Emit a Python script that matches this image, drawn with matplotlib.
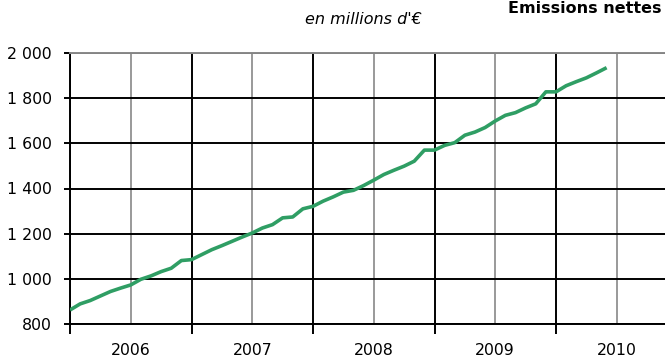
import matplotlib
matplotlib.use("Agg")
import matplotlib.pyplot as plt
import numpy as np

# Emissions nettes cumulées, en millions d'euros, valeurs mensuelles janv. 2006 -> juin 2010
valeurs = [862, 889, 904, 924, 944, 959, 973, 998, 1013, 1032, 1047, 1081,
           1085, 1107, 1129, 1147, 1166, 1185, 1203, 1225, 1240, 1270, 1274, 1310,
           1321, 1344, 1363, 1384, 1392, 1413, 1437, 1462, 1481, 1499, 1521, 1570,
           1570, 1591, 1603, 1636, 1650, 1670, 1699, 1724, 1736, 1757, 1775, 1828,
           1828, 1855, 1873, 1890, 1912, 1935]
annees = ["2006", "2007", "2008", "2009", "2010"]
y_ticks = [800, 1000, 1200, 1400, 1600, 1800, 2000]

W, H = 665, 363
fig = plt.figure(figsize=(W / 100, H / 100), dpi=100)
# axe qui depasse a droite (le graphique d'origine est rogne)
ax = fig.add_axes([70 / W, 39 / H, 607.5 / W, 271 / H])

mois = np.arange(len(valeurs))
ax.plot(mois, valeurs, color="#2f9e64", linewidth=2.6, solid_capstyle="butt", zorder=3)

ax.set_xlim(0, 12 * len(annees))
ax.set_ylim(800, 2000)

# y
ax.set_yticks(y_ticks)
ax.set_yticklabels([f"{v:,}".replace(",", " ") for v in y_ticks])
ax.tick_params(axis="y", length=4, width=1.4, direction="out", color="black",
               labelsize=11.3, pad=9)
ax.yaxis.grid(True, color="black", linewidth=1.4)

# x : separations des annees (noir) et milieux (gris)
ax.set_xticks(np.arange(0, 12 * len(annees) + 1, 12))
ax.set_xticklabels([])
ax.set_xticks(np.arange(6, 12 * len(annees), 12), minor=True)
ax.set_xticklabels(annees, minor=True)
ax.tick_params(axis="x", which="major", length=7, width=1.4, direction="out", color="black")
ax.tick_params(axis="x", which="minor", length=0, labelsize=11.3, pad=14)
ax.xaxis.grid(True, which="major", color="black", linewidth=1.4)
ax.xaxis.grid(True, which="minor", color="#999999", linewidth=1.4)
ax.set_axisbelow(True)

for s in ["left", "bottom"]:
    ax.spines[s].set_color("black")
    ax.spines[s].set_linewidth(1.4)
for s in ["top", "right"]:
    ax.spines[s].set_color("#888888")
    ax.spines[s].set_linewidth(1.4)

fig.text(363 / W, 1 - 20 / H, "en millions d'€", ha="center", va="center",
         fontsize=11.5, style="italic")
fig.text(662 / W, 1 - 1 / H, "Emissions nettes", ha="right", va="top",
         fontsize=11.5, fontweight="bold")

fig.savefig("out.png", dpi=100)
